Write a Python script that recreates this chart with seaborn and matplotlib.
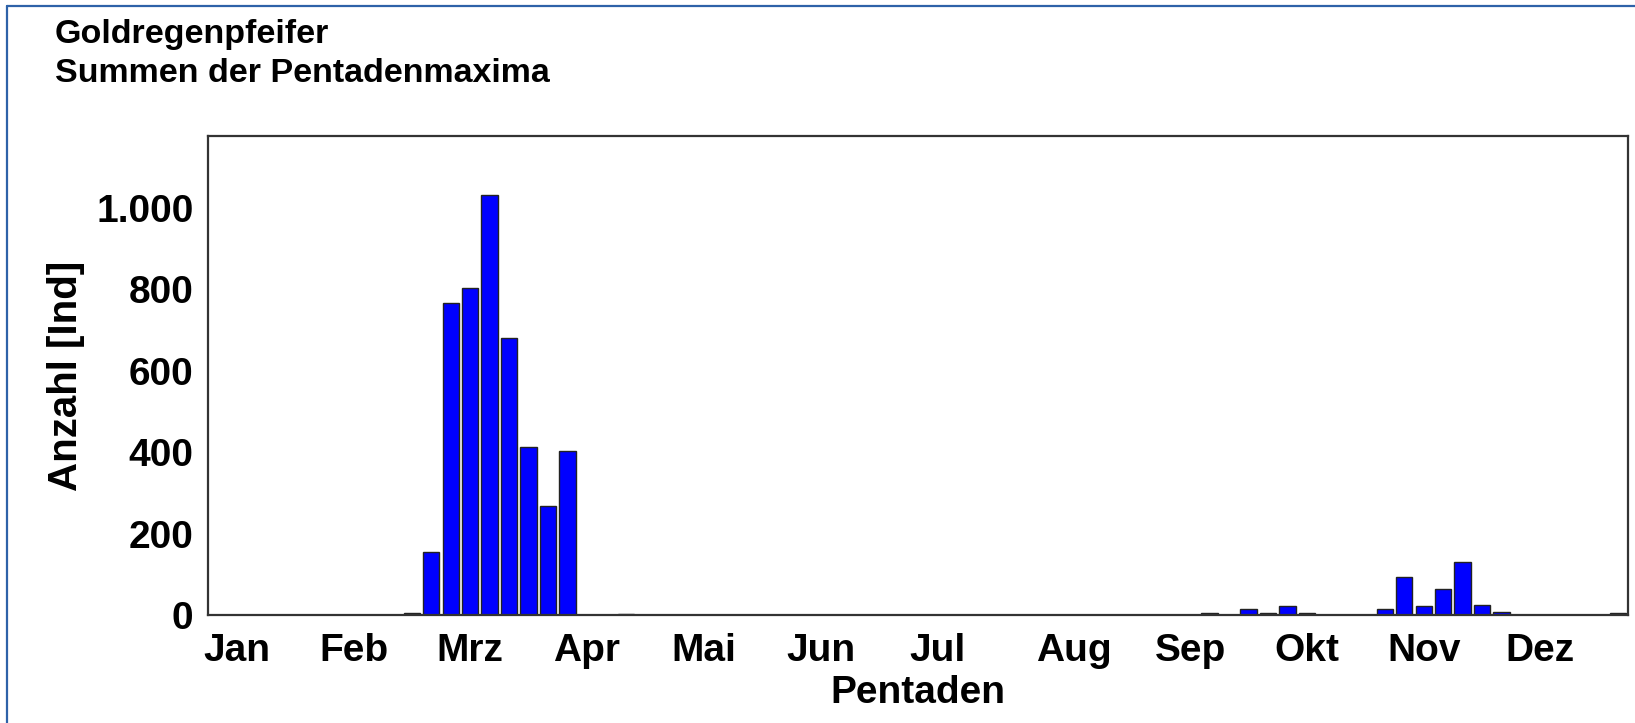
import numpy as np
import pandas as pd
import matplotlib
matplotlib.use("Agg")
import matplotlib.pyplot as plt
import seaborn as sns
from matplotlib.lines import Line2D
from matplotlib.ticker import FixedLocator, MultipleLocator, FuncFormatter

# ==================================
# DATA
# ==================================
title_lines = ["Goldregenpfeifer", "Summen der Pentadenmaxima"]

# pentad numbers (1..73) with non-zero sums, and the sums
pentads = [11, 12, 13, 14, 15, 16, 17, 18, 19, 22,
           52, 54, 55, 56, 57, 61, 62, 63, 64, 65, 66, 67, 73]
counts = [6, 154, 765, 804, 1031, 679, 413, 267, 402, 3,
          5, 15, 4, 21, 4, 15, 93, 21, 64, 130, 25, 7, 4]

months = ["Jan", "Feb", "Mrz", "Apr", "Mai", "Jun",
          "Jul", "Aug", "Sep", "Okt", "Nov", "Dez"]
month_pentads = [2, 8, 14, 20, 26, 32, 38, 45, 51, 57, 63, 69]

y_ticks = [0, 200, 400, 600, 800, 1000]

df = pd.DataFrame({"Pentade": pentads, "Anzahl": counts})

# ==================================
# STYLE
# ==================================
sns.set_style("white")
plt.rcParams["font.family"] = ["Liberation Sans", "DejaVu Sans"]
plt.rcParams["font.weight"] = "bold"
plt.rcParams["text.color"] = "black"
plt.rcParams["axes.labelcolor"] = "black"
plt.rcParams["xtick.labelcolor"] = "black"
plt.rcParams["ytick.labelcolor"] = "black"

W, H = 1635, 723
fig = plt.figure(figsize=(W / 100, H / 100), dpi=100)

left, right, top, bottom = 207.5, 1628, 136, 615
ax = fig.add_axes([left / W, 1 - bottom / H, (right - left) / W, (bottom - top) / H])

# ==================================
# BARS
# ==================================
sns.barplot(data=df, x="Pentade", y="Anzahl", native_scale=True,
            color="#0000ff", saturation=1, width=0.84,
            edgecolor="#222222", linewidth=1.0, ax=ax)

ax.set_xlim(0.5, 73.5)
ax.set_ylim(0, 1176)

ax.xaxis.set_major_locator(FixedLocator(month_pentads))
ax.set_xticklabels(months)
ax.xaxis.set_minor_locator(FixedLocator(np.arange(1, 74)))
ax.tick_params(axis="x", which="major", length=0, pad=13, labelsize=28)
ax.tick_params(axis="x", which="minor", length=5, width=1.2,
               color="#888888", direction="out")

ax.yaxis.set_major_locator(FixedLocator(y_ticks))
ax.yaxis.set_minor_locator(MultipleLocator(100))
ax.yaxis.set_major_formatter(FuncFormatter(lambda v, p: f"{int(v):,}".replace(",", ".")))
ax.tick_params(axis="y", which="major", length=4, width=1.2, color="#888888",
               direction="out", pad=6, labelsize=28)
ax.tick_params(axis="y", which="minor", length=3, width=1.0, color="#aaaaaa",
               direction="out")
for lab in ax.get_xticklabels() + ax.get_yticklabels():
    lab.set_fontweight("bold")

ax.set_xlabel("Pentaden", fontsize=28, fontweight="bold", labelpad=4)
ax.set_ylabel("Anzahl [Ind]", fontsize=29, fontweight="bold", labelpad=8)

for s in ax.spines.values():
    s.set_visible(True)
    s.set_color("#333333")
    s.set_linewidth(1.6)

# ==================================
# TITLE + FRAME
# ==================================
fig.text(55 / W, 1 - 43 / H, title_lines[0], fontsize=24.5, fontweight="bold",
         va="baseline", ha="left")
fig.text(55 / W, 1 - 82 / H, title_lines[1], fontsize=24.5, fontweight="bold",
         va="baseline", ha="left")

frame_col = "#2e62a8"
fig.add_artist(Line2D([7 / W, 1], [1 - 6 / H, 1 - 6 / H], color=frame_col,
                      linewidth=1.6, transform=fig.transFigure))
fig.add_artist(Line2D([7 / W, 7 / W], [0, 1 - 6 / H], color=frame_col,
                      linewidth=1.6, transform=fig.transFigure))

fig.savefig("out.png", dpi=100)
